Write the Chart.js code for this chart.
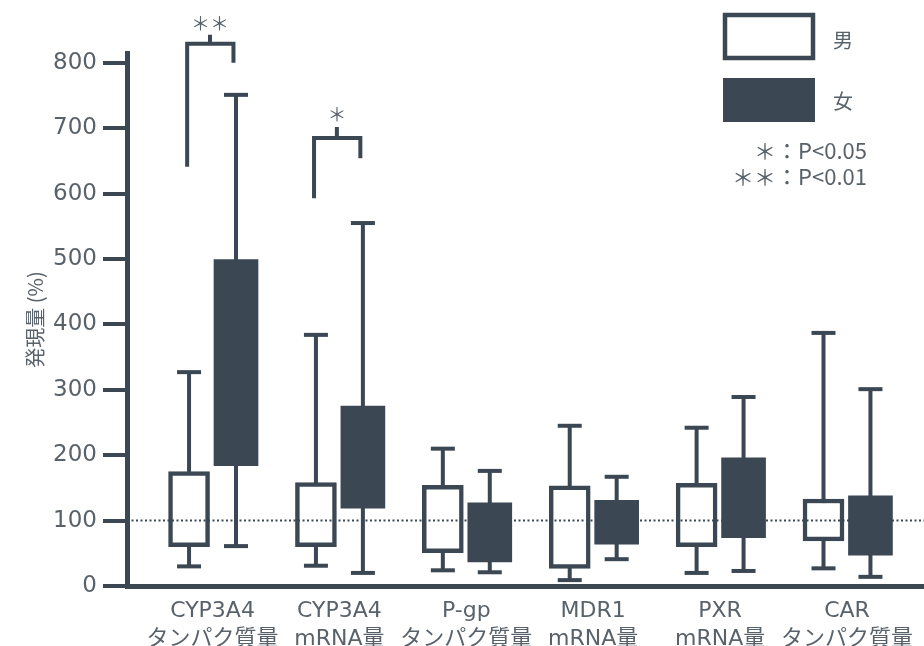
<!DOCTYPE html>
<html>
<head>
<meta charset="utf-8">
<script src="https://cdn.jsdelivr.net/npm/chart.js@4/dist/chart.umd.min.js"></script>
<style>
  html, body { margin: 0; padding: 0; background: #ffffff; }
  #wrap { width: 924px; height: 646px; position: relative; }
  canvas { display: block; }
</style>
</head>
<body>
<div id="wrap"><canvas id="c" width="924" height="646"></canvas></div>
<script>
// Expression level (%) by sex, box = interquartile range, whiskers = min/max
const categories = [
  ['CYP3A4', 'タンパク質量'],
  ['CYP3A4', 'mRNA量'],
  ['P-gp', 'タンパク質量'],
  ['MDR1', 'mRNA量'],
  ['PXR', 'mRNA量'],
  ['CAR', 'タンパク質量']
];
const maleMin   = [30, 31, 24, 9, 20, 27];
const maleQ1    = [60, 60, 51, 27, 60, 69];
const maleQ3    = [175, 158, 154, 153, 157, 133];
const maleMax   = [327, 384, 210, 245, 242, 387];
const femaleMin = [61, 20, 21, 41, 23, 14];
const femaleQ1  = [184, 119, 37, 64, 74, 47];
const femaleQ3  = [499, 275, 127, 131, 196, 138];
const femaleMax = [751, 555, 176, 167, 289, 301];
const yTicks = [0, 100, 200, 300, 400, 500, 600, 700, 800];
const referenceLevel = 100;

// Significance brackets (category index, leg bottoms, bar top, stub top, mark)
const sigGroups      = [0, 1];
const sigLeftBottom  = [641, 593];
const sigTop         = [829, 685];
const sigRightBottom = [800, 654];
const sigStubTop     = [843, 702];
const sigMarkY       = [860, 721];
const sigMarks       = ['＊＊', '＊'];

const seriesNames = ['男', '女'];
const pNotes = ['＊：P<0.05', '＊＊：P<0.01'];

const INK = '#3b4752';
const TEXT = '#59626b';
const X_MIN = -0.674, X_MAX = 5.607;
const OFF = 0.185;
const maleX = i => i - OFF;
const femaleX = i => i + OFF;

function whiskers(xf, lo, hi) {
  const pts = [];
  categories.forEach((_, i) => {
    pts.push({ x: xf(i), y: lo[i] }, { x: xf(i), y: hi[i] }, { x: xf(i), y: null });
  });
  return pts;
}
function caps(xf, lo, hi) {
  const pts = [];
  categories.forEach((_, i) => {
    pts.push({ x: xf(i), y: lo[i] }, { x: xf(i), y: hi[i] });
  });
  return pts;
}
function boxes(xf, q1, q3) {
  return categories.map((_, i) => ({ x: xf(i), y: [q1[i], q3[i]] }));
}
function brackets() {
  const pts = [];
  sigGroups.forEach((g, k) => {
    const l = g - 0.2, r = g + 0.165, s = g - 0.02;
    pts.push({ x: l, y: sigLeftBottom[k] }, { x: l, y: sigTop[k] },
             { x: r, y: sigTop[k] }, { x: r, y: sigRightBottom[k] }, { x: r, y: null },
             { x: s, y: sigTop[k] }, { x: s, y: sigStubTop[k] }, { x: s, y: null });
  });
  return pts;
}

const lineBase = {
  type: 'line', borderColor: INK, borderWidth: 4, pointRadius: 0,
  spanGaps: false, tension: 0, borderCapStyle: 'butt'
};
const capBase = {
  type: 'line', showLine: false, pointStyle: 'line', pointRadius: 12,
  pointBorderWidth: 4, pointBorderColor: INK, pointBackgroundColor: INK
};

const annotations = {
  id: 'annotations',
  afterDraw(chart) {
    const { ctx, scales: { x, y } } = chart;
    ctx.save();
    // significance marks above the brackets
    ctx.fillStyle = TEXT;
    ctx.textAlign = 'center';
    ctx.textBaseline = 'middle';
    ctx.font = '19px "Noto Sans CJK JP"';
    sigGroups.forEach((g, k) => {
      ctx.fillText(sigMarks[k], x.getPixelForValue(g - 0.02), y.getPixelForValue(sigMarkY[k]));
    });
    // legend
    ctx.strokeStyle = INK;
    ctx.lineWidth = 4.5;
    ctx.fillStyle = '#ffffff';
    ctx.fillRect(725, 15, 88, 43);
    ctx.strokeRect(725, 15, 88, 43);
    ctx.fillStyle = INK;
    ctx.fillRect(723, 78, 92, 44);
    ctx.fillStyle = TEXT;
    ctx.textAlign = 'left';
    ctx.font = '20px "Noto Sans CJK JP"';
    ctx.fillText(seriesNames[0], 833, 40);
    ctx.fillText(seriesNames[1], 833, 101);
    ctx.textAlign = 'right';
    ctx.font = '22px "Noto Sans CJK JP"';
    ctx.fillText(pNotes[0], 867, 151);
    ctx.fillText(pNotes[1], 867, 177);
    ctx.restore();
  }
};

new Chart(document.getElementById('c'), {
  type: 'bar',
  data: {
    datasets: [
      Object.assign({}, lineBase, { label: 'male whiskers', data: whiskers(maleX, maleMin, maleMax), order: 7 }),
      Object.assign({}, lineBase, { label: 'female whiskers', data: whiskers(femaleX, femaleMin, femaleMax), order: 7 }),
      {
        type: 'bar', label: seriesNames[0], data: boxes(maleX, maleQ1, maleQ3),
        backgroundColor: '#ffffff', borderColor: INK, borderWidth: 4.5, borderSkipped: false,
        grouped: false, barPercentage: 1, categoryPercentage: 1, maxBarThickness: 41, order: 6
      },
      {
        type: 'line', label: 'reference', data: [{ x: X_MIN, y: referenceLevel }, { x: X_MAX, y: referenceLevel }],
        borderColor: INK, borderWidth: 2, borderDash: [2, 2.5], pointRadius: 0, order: 5
      },
      {
        type: 'bar', label: seriesNames[1], data: boxes(femaleX, femaleQ1, femaleQ3),
        backgroundColor: INK, borderWidth: 0, borderSkipped: false,
        grouped: false, barPercentage: 1, categoryPercentage: 1, maxBarThickness: 44, order: 4
      },
      Object.assign({}, capBase, { label: 'male caps', data: caps(maleX, maleMin, maleMax), order: 3 }),
      Object.assign({}, capBase, { label: 'female caps', data: caps(femaleX, femaleMin, femaleMax), order: 3 }),
      Object.assign({}, lineBase, { label: 'brackets', data: brackets(), borderJoinStyle: 'miter', clip: false, order: 1 })
    ]
  },
  options: {
    responsive: false,
    animation: false,
    devicePixelRatio: 1,
    layout: { autoPadding: false, padding: { top: 53, right: 0, left: 0, bottom: 0 } },
    plugins: { legend: { display: false }, tooltip: { enabled: false } },
    scales: {
      x: {
        type: 'linear', min: X_MIN, max: X_MAX, offset: false,
        afterBuildTicks: s => { s.ticks = categories.map((_, i) => ({ value: i })); },
        afterFit: s => { s.height = 60; s.paddingLeft = 0; s.paddingRight = 0; },
        grid: { display: false, drawTicks: false },
        border: { display: true, width: 5, color: INK },
        ticks: {
          autoSkip: false, maxRotation: 0, padding: 11, color: TEXT,
          font: { family: '"DejaVu Sans", "Noto Sans CJK JP", sans-serif', size: 22, lineHeight: 1.27 },
          callback: v => categories[Math.round(v)]
        }
      },
      y: {
        type: 'linear', min: 0, max: 815,
        afterBuildTicks: s => { s.ticks = yTicks.map(v => ({ value: v })); },
        afterFit: s => { s.width = 127; },
        grid: { drawOnChartArea: false, drawTicks: true, tickLength: 24, tickWidth: 4, tickColor: INK, lineWidth: 4, color: INK },
        border: { display: true, width: 5, color: INK },
        ticks: {
          autoSkip: false, padding: 6, color: TEXT,
          font: { family: '"DejaVu Sans", sans-serif', size: 23 }
        },
        title: {
          display: true, text: '発現量 (%)', color: TEXT,
          font: { family: '"Noto Sans CJK JP"', size: 20 },
          padding: { top: 23, bottom: 0 }
        }
      }
    }
  },
  plugins: [annotations]
});
</script>
</body>
</html>
